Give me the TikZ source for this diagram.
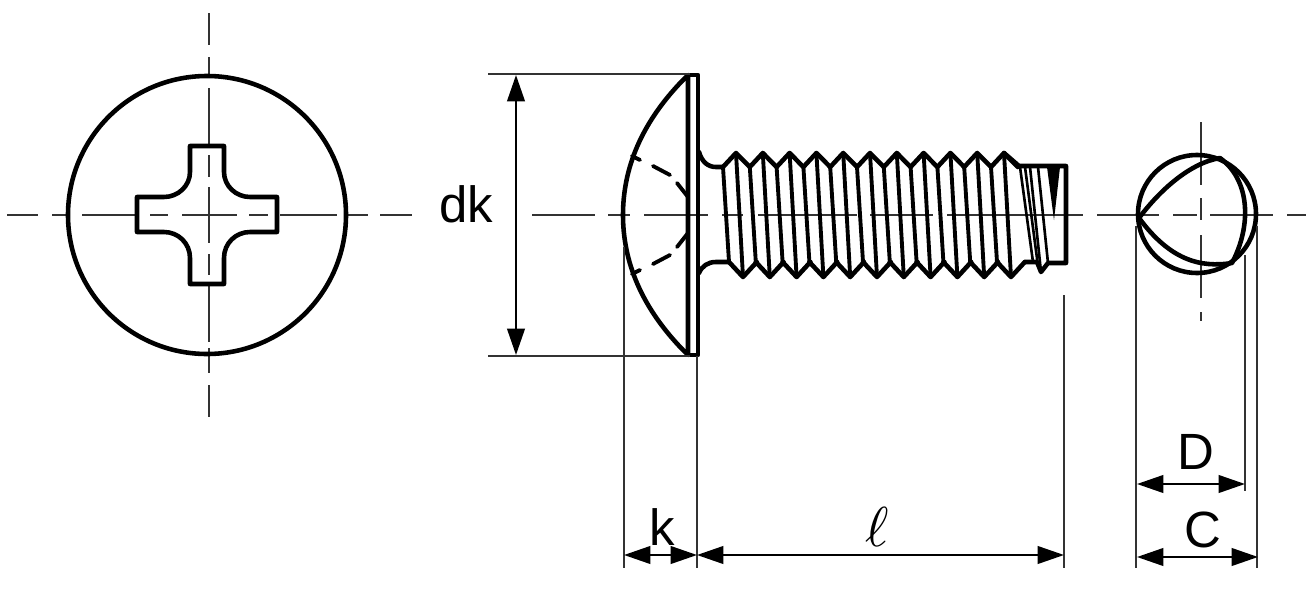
\documentclass[tikz,border=0pt]{standalone}
\usepackage{fontspec}
\setmainfont{Liberation Sans}
\usetikzlibrary{arrows.meta}
\tikzset{
    outline/.style={line width=2.6pt,line join=round,line cap=round},
    threadline/.style={line width=2.2pt,line cap=round},
    tipline/.style={line width=1.5pt,line cap=round},
    thinline/.style={line width=1.3pt,black!80},
    centerline/.style={line width=1.3pt,black!80},
    dimline/.style={line width=1.3pt,black,{Triangle[length=15pt,width=10pt]}-{Triangle[length=15pt,width=10pt]}},
    dimlabel/.style={inner sep=0pt,font=\fontsize{29}{31}\selectfont},
}
\begin{document}
\begin{tikzpicture}[x=0.02cm,y=-0.02cm]
\useasboundingbox (0,0) rectangle (1312,612);
% centre lines
\foreach \a/\b in {7/38,52/68,82/137,150/168,182/237,249/268,280/337,347/368,380/412,
    532/595,608/630,644/708,722/743,758/857,870/933,947/1083,
    1097/1159,1173/1197,1210/1273,1287/1306}
    \draw[centerline] (\a,215)--(\b,215);
\foreach \a/\b in {13/45,57/75,88/145,155/177,187/243,254/275,285/342,348/373,385/417}
    \draw[centerline] (209,\a)--(209,\b);
\foreach \a/\b in {122/185,198/220,235/298,312/321}
    \draw[centerline] (1201,\a)--(1201,\b);
% head seen from above
\draw[outline] (207,215) circle (139);
\draw[outline] (190,146)--(224,146)--(224,172) .. controls (224,186) and (236,197) .. (250,197)
    --(277,197)--(277,232)--(250,232) .. controls (236,232) and (224,243) .. (224,258)
    --(224,284)--(190,284)--(190,258) .. controls (190,243) and (178,232) .. (164,232)
    --(137,232)--(137,197)--(164,197) .. controls (178,197) and (190,186) .. (190,172)--cycle;
% head from the side
\draw[outline] (688,75) .. controls (640,122) and (623,170) .. (623,215)
    .. controls (623,260) and (640,308) .. (688,355)--cycle;
\draw[outline] (688,75)--(698,75)--(698,355)--(688,355);
\foreach \a/\b in {632/640,653/670,677/688}{
    \pgfmathsetmacro{\ya}{\a==632 ? 156 : (\a==653 ? 166 : 183)}
    \pgfmathsetmacro{\yb}{\a==632 ? 160 : (\a==653 ? 175 : 197)}
    \draw[threadline] (\a,\ya)--(\b,\yb);
    \draw[threadline] (\a,430-\ya)--(\b,430-\yb);
}
% neck
\draw[outline] (699,152) .. controls (702,162) and (708,167) .. (716,167)--(723,167);
\draw[outline] (699,273) .. controls (702,266) and (708,262) .. (716,262)--(729,262);
% thread
\foreach \i in {0,...,10}{
\begin{scope}[shift={(26.8*\i,0)}]
    \draw[outline] (723,167)--(736,153)--(749.8,167);
    \draw[outline] (729,262)--(743,277)--(756.8,262);
    \draw[threadline] (736,153)--(743,277);
    \draw[threadline] (723,167)--(729,262);
\end{scope}
}
% tip of the thread
\draw[outline] (1004,153)--(1019,166)--(1066,166)--(1066,263)--(1048,263)--(1041,272)--(1037,262)--(1025,262);
\draw[tipline] (1020,167)--(1033,262);
\draw[tipline] (1025,167)--(1038,266);
\draw[tipline] (1030,167)--(1041,272);
\draw[tipline] (1038,167)--(1048,263);
\fill (1047,167)--(1060,167)--(1054,220)--cycle;
% end view
\draw[outline] (1197,214) circle (59);
\draw[outline] (1139,218) .. controls (1160,190) and (1190,163) .. (1220,158)
    .. controls (1250,180) and (1252,225) .. (1232,263)
    .. controls (1200,268) and (1170,260) .. (1139,218)--cycle;
% dimension ends
\coordinate (dktop) at (516,75);
\coordinate (dkbottom) at (516,355);
\coordinate (kleft) at (624,555);
\coordinate (kright) at (697,555);
\coordinate (lright) at (1064,555);
\coordinate (dleft) at (1137,484);
\coordinate (dright) at (1245,484);
\coordinate (cleft) at (1137,557);
\coordinate (cright) at (1258,557);
% extension lines
\draw[thinline] (488,74)--(690,74);
\draw[thinline] (488,356)--(690,356);
\draw[thinline] (624,247)--(624,568);
\draw[thinline] (697,356)--(697,568);
\draw[thinline] (1064,295)--(1064,568);
\draw[thinline] (1136,226)--(1136,568);
\draw[thinline] (1245,255)--(1245,491);
\draw[thinline] (1257,226)--(1257,568);
% dimensions
\draw[dimline] (dktop)--(dkbottom);
\draw[dimline] (kleft)--(kright);
\draw[dimline] (kright)--(lright);
\draw[dimline] (dleft)--(dright);
\draw[dimline] (cleft)--(cright);
\node[dimlabel] (dklabel) at (466,204) {dk};
\node[dimlabel] (klabel) at (662,527) {k};
\node[inner sep=0pt] (llabel) at (877,527) {\scalebox{3.2}{$\ell$}};
\node[dimlabel] (dlabel) at (1196,452) {D};
\node[dimlabel] (clabel) at (1203,530) {C};
\end{tikzpicture}
\end{document}
